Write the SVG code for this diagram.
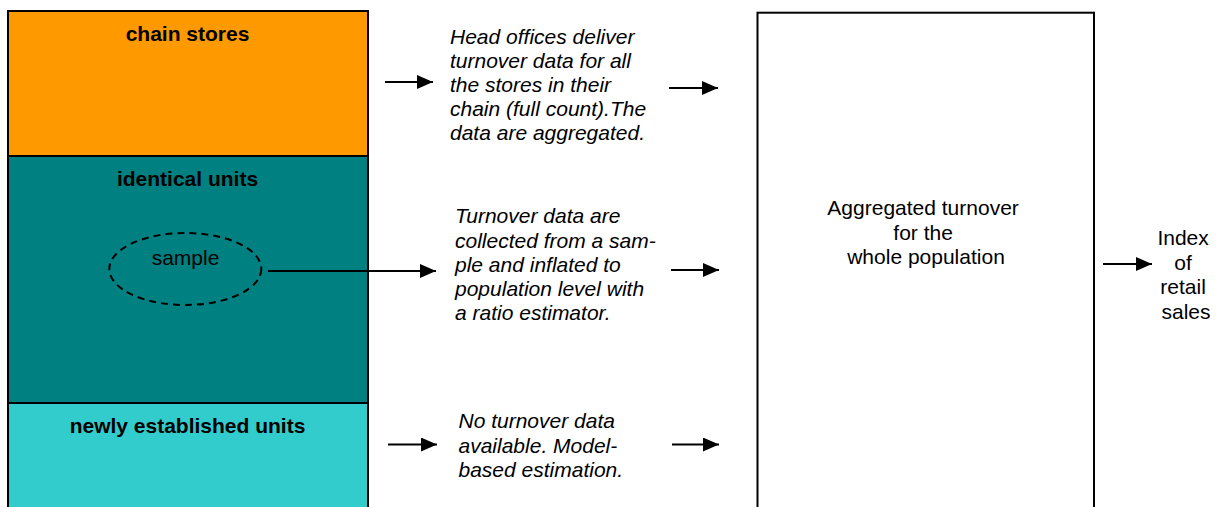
<svg xmlns="http://www.w3.org/2000/svg" width="1217" height="507" viewBox="0 0 1217 507">
<style>
.lbl{font-family:"Liberation Sans",Arial,sans-serif;font-size:21px;fill:#000}
.b{font-weight:bold;text-anchor:middle}
.c{text-anchor:middle}
.i{font-style:italic}
.box{stroke:#000;stroke-width:2}
.con{stroke:#000;stroke-width:2;fill:none}
</style>
<defs>
<marker id="ah" markerWidth="8" markerHeight="7" refX="8" refY="3.5" orient="auto" markerUnits="strokeWidth">
<path d="M0,0 L8,3.5 L0,7 Z" fill="#000"/>
</marker>
<clipPath id="clip1"><rect x="440" y="0" width="240" height="144.5"/></clipPath>
</defs>
<rect width="1217" height="507" fill="#fff"/>
<g id="chain-stores">
<rect class="box" x="8" y="11" width="360" height="145" fill="#FF9900"/>
<text class="lbl b" x="187.5" y="40.5">chain stores</text>
</g>
<g id="identical-units">
<rect class="box" x="8" y="156" width="360" height="247" fill="#008080"/>
<text class="lbl b" x="187.5" y="186">identical units</text>
</g>
<g id="sample">
<ellipse cx="185.3" cy="269" rx="76" ry="36" fill="none" stroke="#000" stroke-width="2" stroke-dasharray="7,5"/>
<text class="lbl c" x="185.5" y="265">sample</text>
</g>
<g id="newly-established-units">
<rect class="box" x="8" y="403" width="360" height="110" fill="#33CCCC"/>
<text class="lbl b" x="187.5" y="433">newly established units</text>
</g>
<g id="text-chain">
<text class="lbl i" clip-path="url(#clip1)">
<tspan x="450" y="43.5">Head offices deliver</tspan>
<tspan x="450" y="67.7">turnover data for all</tspan>
<tspan x="450" y="91.9">the stores in their</tspan>
<tspan x="450" y="116.1">chain (full count).The</tspan>
<tspan x="450" y="140.3">data are aggregated.</tspan>
</text>
</g>
<g id="text-identical">
<text class="lbl i">
<tspan x="455" y="223.3">Turnover data are</tspan>
<tspan x="455" y="247.5">collected from a sam-</tspan>
<tspan x="455" y="271.7">ple and inflated to</tspan>
<tspan x="455" y="295.9">population level with</tspan>
<tspan x="455" y="320.1">a ratio estimator.</tspan>
</text>
</g>
<g id="text-new">
<text class="lbl i">
<tspan x="458.5" y="428.3">No turnover data</tspan>
<tspan x="458.5" y="452.7">available. Model-</tspan>
<tspan x="458.5" y="477.1">based estimation.</tspan>
</text>
</g>
<g id="aggregate">
<rect x="757.5" y="12.7" width="336.5" height="500" fill="#fff" stroke="#000" stroke-width="2"/>
<text class="lbl c">
<tspan x="926" y="215">Aggregated turnover</tspan>
<tspan x="926" y="239.5">for the</tspan>
<tspan x="926" y="264">whole population</tspan>
</text>
</g>
<g id="index">
<text class="lbl c">
<tspan x="1186" y="245">Index</tspan>
<tspan x="1186" y="269.5">of</tspan>
<tspan x="1186" y="294">retail</tspan>
<tspan x="1186" y="318.5">sales</tspan>
</text>
</g>
<g id="connectors">
<line class="con" x1="385" y1="82" x2="433" y2="82" marker-end="url(#ah)"/>
<line class="con" x1="669" y1="88" x2="718" y2="88" marker-end="url(#ah)"/>
<line class="con" x1="268" y1="271" x2="436" y2="271" marker-end="url(#ah)"/>
<line class="con" x1="671" y1="270" x2="719" y2="270" marker-end="url(#ah)"/>
<line class="con" x1="388" y1="444.5" x2="437" y2="444.5" marker-end="url(#ah)"/>
<line class="con" x1="672" y1="444.5" x2="719" y2="444.5" marker-end="url(#ah)"/>
<line class="con" x1="1103" y1="264" x2="1152" y2="264" marker-end="url(#ah)"/>
</g>
</svg>
